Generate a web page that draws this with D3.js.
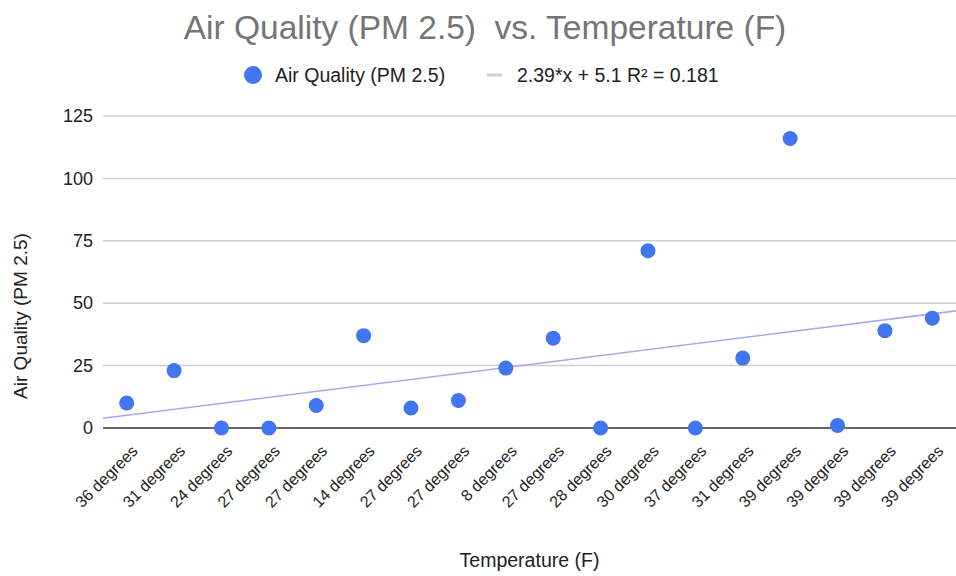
<!DOCTYPE html>
<html lang="en">
<head>
    <meta charset="UTF-8">
    <title>Air Quality vs Temperature</title>
    <script src="https://d3js.org/d3.v7.min.js"></script>
    <style>
        body {
            margin: 0;
            background: #ffffff;
            font-family: 'Liberation Sans', Arial, sans-serif;
        }
    </style>
</head>
<body>
    <svg id="chart" width="956" height="576"></svg>
    <script>
        const temperatures = ["36 degrees", "31 degrees", "24 degrees", "27 degrees", "27 degrees", "14 degrees",
            "27 degrees", "27 degrees", "8 degrees", "27 degrees", "28 degrees", "30 degrees",
            "37 degrees", "31 degrees", "39 degrees", "39 degrees", "39 degrees", "39 degrees"];
        const pm25 = [10, 23, 0, 0, 9, 37, 8, 11, 24, 36, 0, 71, 0, 28, 116, 1, 39, 44];
        const yTicks = [0, 25, 50, 75, 100, 125];
        const trendSlope = 2.39, trendIntercept = 5.1, trendR2 = 0.181;

        const svg = d3.select("#chart"),
              margin = { top: 116, right: 0, bottom: 148, left: 103 },
              width = +svg.attr("width") - margin.left - margin.right,
              height = +svg.attr("height") - margin.top - margin.bottom,
              g = svg.append("g").attr("transform", `translate(${margin.left},${margin.top})`);

        const idx = d3.range(temperatures.length);

        const x = d3.scaleBand()
            .domain(idx)
            .range([0, width]);

        // numeric scale for the trend line (index based)
        const xi = d3.scaleLinear()
            .domain([-0.5, temperatures.length - 0.5])
            .range([0, width]);

        const y = d3.scaleLinear()
            .domain([0, 125])
            .range([height, 0]);

        // gridlines
        g.append("g")
            .selectAll("line")
            .data(yTicks.filter(d => d > 0))
            .join("line")
            .attr("x1", 0).attr("x2", width)
            .attr("y1", d => y(d)).attr("y2", d => y(d))
            .attr("stroke", "#cfcfcf")
            .attr("stroke-width", 1.5);

        // y axis labels
        const yAxis = g.append("g")
            .call(d3.axisLeft(y).tickValues(yTicks).tickSize(0).tickPadding(10));
        yAxis.select(".domain").remove();
        yAxis.selectAll("text")
            .attr("font-family", "'Liberation Sans', Arial, sans-serif")
            .attr("font-size", 18)
            .attr("fill", "#222");

        // trend line
        g.append("line")
            .attr("x1", xi(-0.5)).attr("y1", y(trendSlope * -0.5 + trendIntercept))
            .attr("x2", xi(temperatures.length - 0.5))
            .attr("y2", y(trendSlope * (temperatures.length - 0.5) + trendIntercept))
            .attr("stroke", "#a9a6f2")
            .attr("stroke-width", 1.6);

        // zero line
        g.append("line")
            .attr("x1", 0).attr("x2", width)
            .attr("y1", y(0)).attr("y2", y(0))
            .attr("stroke", "#333")
            .attr("stroke-width", 1.6);

        // points
        g.append("g")
            .selectAll("circle")
            .data(pm25)
            .join("circle")
            .attr("cx", (d, i) => x(i) + x.bandwidth() / 2)
            .attr("cy", d => y(d))
            .attr("r", 7.5)
            .attr("fill", "#4275f0");

        // x axis labels
        const xAxis = g.append("g")
            .attr("transform", `translate(0,${height})`)
            .call(d3.axisBottom(x).tickFormat(i => temperatures[i]).tickSize(0).tickPadding(0));
        xAxis.select(".domain").remove();
        xAxis.selectAll("text")
            .attr("font-family", "'Liberation Sans', Arial, sans-serif")
            .attr("font-size", 16)
            .attr("fill", "#222")
            .attr("text-anchor", "end")
            .attr("dy", 0)
            .attr("transform", "translate(12,24) rotate(-45)");

        // axis titles
        svg.append("text")
            .attr("x", margin.left + width / 2)
            .attr("y", 567)
            .attr("text-anchor", "middle")
            .attr("font-size", 19.5)
            .attr("fill", "#222")
            .text("Temperature (F)");

        svg.append("text")
            .attr("transform", "translate(27,316) rotate(-90)")
            .attr("text-anchor", "middle")
            .attr("font-size", 19)
            .attr("fill", "#222")
            .text("Air Quality (PM 2.5)");

        // title
        svg.append("text")
            .attr("x", 485)
            .attr("y", 39)
            .attr("text-anchor", "middle")
            .attr("font-size", 33.5)
            .attr("fill", "#757575")
            .style("white-space", "pre")
            .text("Air Quality (PM 2.5)  vs. Temperature (F)");

        // legend
        const legend = svg.append("g").attr("transform", "translate(0,75)");
        legend.append("circle")
            .attr("cx", 253).attr("cy", 0).attr("r", 9)
            .attr("fill", "#4275f0");
        legend.append("text")
            .attr("x", 275).attr("y", 7)
            .attr("font-size", 19.5).attr("fill", "#222")
            .text("Air Quality (PM 2.5)");
        legend.append("line")
            .attr("x1", 487).attr("x2", 502)
            .attr("y1", 0).attr("y2", 0)
            .attr("stroke", "#cfcfcf").attr("stroke-width", 3);
        legend.append("text")
            .attr("x", 517).attr("y", 7)
            .attr("font-size", 19.5).attr("fill", "#222")
            .text(`${trendSlope}*x + ${trendIntercept} R² = ${trendR2}`);
    </script>
</body>
</html>
